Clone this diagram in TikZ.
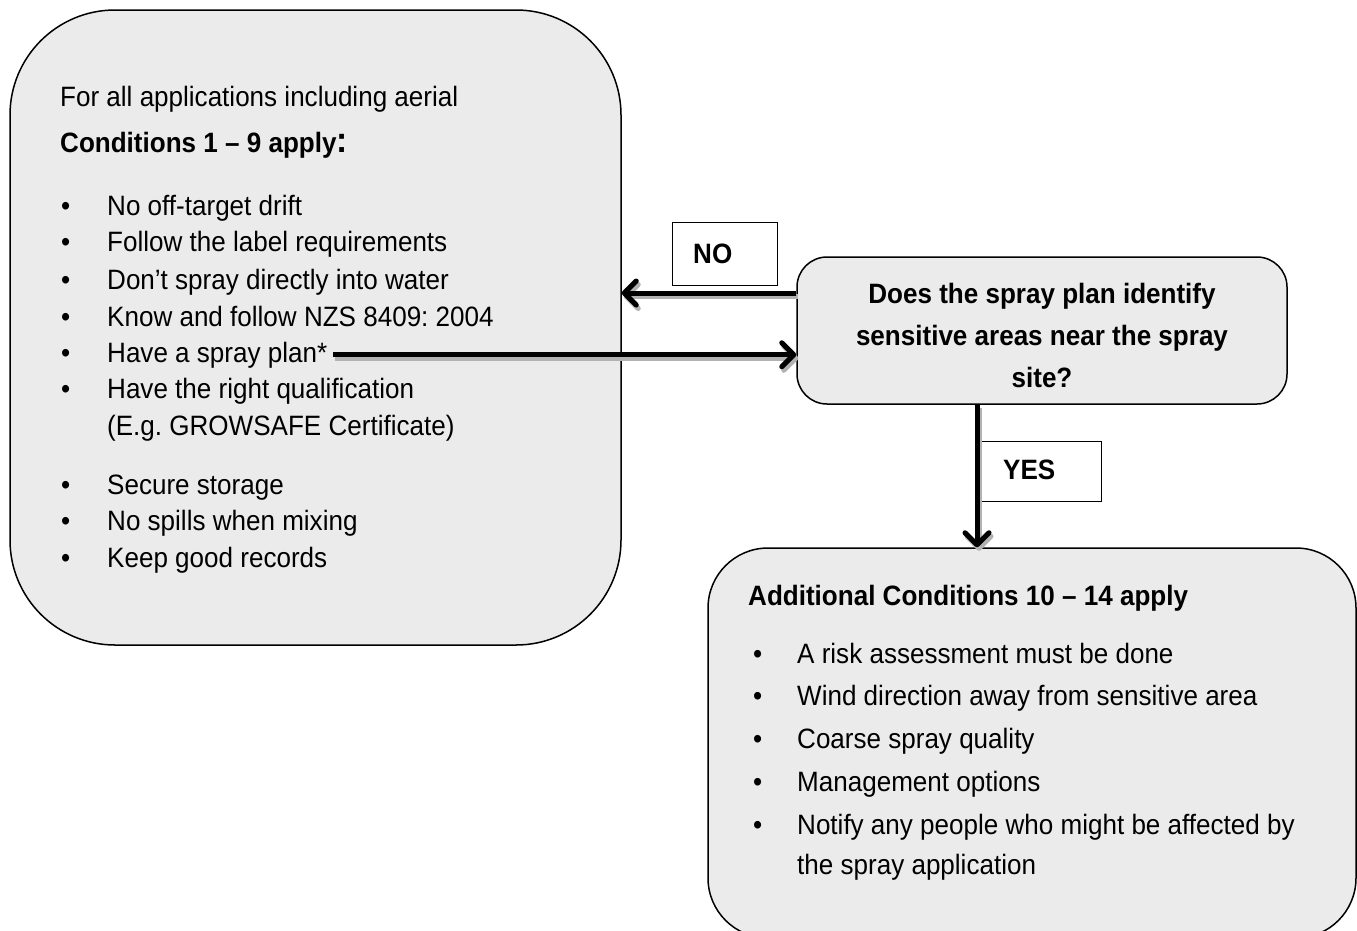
\documentclass[tikz,border=0pt]{standalone}
\usepackage{fontspec}
\setmainfont[FakeStretch=0.93]{Liberation Sans}
\frenchspacing
\usetikzlibrary{arrows.meta}
\definecolor{panelgray}{HTML}{EBEBEB}
\tikzset{
  panel/.style={draw, line width=1.5pt, fill=panelgray},
  tag/.style={draw, line width=0.8pt, fill=white},
  txt/.style={anchor=base west, inner sep=0pt, font=\fontsize{28}{34}\selectfont},
  btxt/.style={txt, font=\fontsize{28}{34}\selectfont\bfseries},
  flow/.style={line width=5pt, -{Straight Barb[length=12pt,width=24pt,round]}},
  flowshade/.style={flow, draw=black!30, transform canvas={xshift=2pt,yshift=-3.5pt}}
}
\begin{document}
\begin{tikzpicture}[x=1pt,y=-1pt]
  \useasboundingbox (0,0) rectangle (1357,930);
  % boxes
  \node[panel, rounded corners=105pt, minimum width=611pt, minimum height=635pt] (rules) at (315.5,327.5) {};
  \node[panel, rounded corners=30pt, minimum width=490pt, minimum height=147pt] (ask) at (1042,330.5) {};
  \node[panel, rounded corners=60pt, minimum width=648pt, minimum height=390pt] (extra) at (1032,743) {};
  \node[tag, minimum width=105pt, minimum height=63pt] (no) at (724.5,253.5) {};
  \node[tag, minimum width=121pt, minimum height=60pt] (yes) at (1040.5,471) {};
  % left box text
  \node[txt] (head1) at (60,106) {For all applications including aerial};
  \node[btxt] (head2) at (60,152) {Conditions 1 – 9 apply{\fontsize{36}{36}\selectfont:}};
  \foreach \y/\txt [count=\i] in {215/No off-target drift, 251/Follow the label requirements,
      289/Don’t spray directly into water, 326/Know and follow NZS 8409: 2004,
      362/Have a spray plan*, 398/Have the right qualification, 494/Secure storage,
      530/No spills when mixing, 567/Keep good records}
  {
    \node[txt] (dot\i) at (61,\y) {•};
    \node[txt] (rule\i) at (107,\y) {\txt};
  }
  \node[txt] (rule6b) at (107,435) {(E.g. GROWSAFE Certificate)};
  % question
  \begin{scope}
    \clip (797,257) rectangle (1287,388);
    \node[btxt, anchor=base] (ask1) at (1042,303) {Does the spray plan identify};
    \node[btxt, anchor=base] (ask2) at (1042,345) {sensitive areas near the spray};
    \node[btxt, anchor=base] (ask3) at (1042,387) {site?};
  \end{scope}
  \node[btxt] (nolbl) at (693,263) {NO};
  \node[btxt] (yeslbl) at (1003,479) {YES};
  % bottom box text
  \node[btxt] (head3) at (748,605) {Additional Conditions 10 – 14 apply};
  \foreach \y/\txt [count=\i] in {663/A risk assessment must be done,
      705/Wind direction away from sensitive area, 748/Coarse spray quality,
      791/Management options, 834/Notify any people who might be affected by}
  {
    \node[txt] (bdot\i) at (753,\y) {•};
    \node[txt] (more\i) at (797,\y) {\txt};
  }
  \node[txt] (more5b) at (797,874) {the spray application};
  % connectors (shadow first)
  \foreach \sty in {flowshade, flow} {
    \draw[\sty] (ask.west |- 0,293) -- (rules.east |- 0,293);
    \draw[\sty] ([xshift=6pt]rule5.east) -- (rule5.east -| ask.west);
    \draw[\sty] (ask.south -| 977,0) -- (extra.north -| 977,0);
  }
\end{tikzpicture}
\end{document}
